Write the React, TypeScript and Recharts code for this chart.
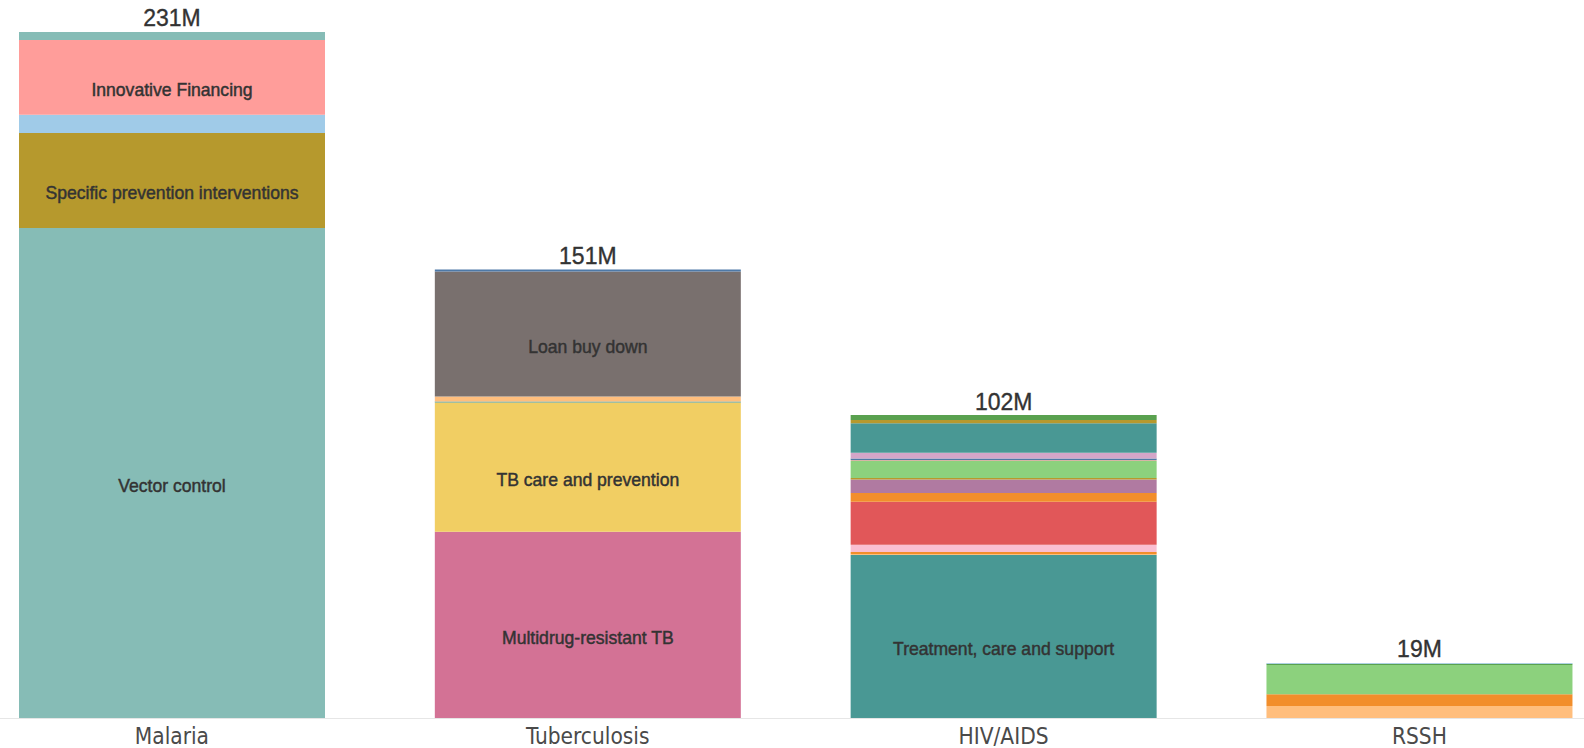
import React from 'react';
import { BarChart, Bar, XAxis, YAxis, Cell, LabelList } from 'recharts';

// categories and totals shown above each stack
const categories = ['Malaria', 'Tuberculosis', 'HIV/AIDS', 'RSSH'];
const totalLabels = ['231M', '151M', '102M', '19M'];

// segment values in millions, listed bottom to top
const malariaValues = [165.0, 32.0, 6.1, 25.2, 2.7];
const tuberculosisValues = [62.8, 43.5, 0.4, 1.6, 42.1, 0.7];
const hivValues = [55.0, 0.3, 0.7, 2.5, 14.4, 3.0, 4.5, 0.5, 5.7, 0.4, 0.5, 1.9, 9.9, 1.1, 1.7];
const rsshValues = [4.2, 4.0, 9.8, 0.4, 0.3];

const malariaNames = ['Vector control', 'Specific prevention interventions', '', 'Innovative Financing', ''];
const tuberculosisNames = ['Multidrug-resistant TB', 'TB care and prevention', '', '', 'Loan buy down', ''];
const hivNames = ['Treatment, care and support', '', '', '', '', '', '', '', '', '', '', '', '', '', ''];
const rsshNames = ['', '', '', '', ''];

const malariaColors = ['#86BCB6', '#B6992D', '#A0CBE8', '#FF9D9A', '#86BCB6'];
const tuberculosisColors = ['#D37295', '#F1CE63', '#499894', '#FFBE7D', '#79706E', '#4E79A7'];
const hivColors = [
  '#499894', '#FFBE7D', '#F28E2B', '#FABFD2', '#E15759', '#F28E2B', '#B07AA1', '#B6992D',
  '#8CD17D', '#D7B5A6', '#4E79A7', '#D4A6C8', '#499894', '#B6992D', '#59A14F',
];
const rsshColors = ['#FFBE7D', '#F28E2B', '#8CD17D', '#59A14F', '#A0CBE8'];

const segValues = [malariaValues, tuberculosisValues, hivValues, rsshValues];
const segNames = [malariaNames, tuberculosisNames, hivNames, rsshNames];
const segColors = [malariaColors, tuberculosisColors, hivColors, rsshColors];

const maxSegs = Math.max(...segValues.map((v) => v.length));
const segKeys = Array.from({ length: maxSegs }, (_, i) => 's' + i);

const data = categories.map((category, ci) => {
  const row: Record<string, any> = { category };
  segKeys.forEach((k, i) => {
    row[k] = segValues[ci][i] ?? 0;
  });
  return row;
});

const sansFont = "'Liberation Sans', Arial, sans-serif";
const narrowFont = "'Liberation Sans Narrow', 'DejaVu Sans Condensed', sans-serif";

// LabelList is keyed on "category" so the value tells us which stack we're in
const makeLabel = (segIndex: number) => (props: any) => {
  const vb = props.viewBox || props;
  const ci = categories.indexOf(props.value);
  if (ci < 0 || !(segValues[ci][segIndex] > 0)) return null;
  const x = Number(vb.x);
  const w = Number(vb.width);
  const h = Number(vb.height);
  const top = h < 0 ? Number(vb.y) + h : Number(vb.y);
  const absH = Math.abs(h);
  const cx = x + w / 2;
  const name = segNames[ci][segIndex];
  const isTop = segIndex === segValues[ci].length - 1;
  return (
    <g>
      {name ? (
        <text
          x={cx}
          y={top + absH / 2 + 12.5}
          textAnchor="middle"
          dominantBaseline="central"
          fill="#333"
          stroke="#333"
          strokeWidth={0.45}
          fontSize={17.6}
          fontFamily={sansFont}
        >
          {name}
        </text>
      ) : null}
      {isTop ? (
        <text
          x={cx}
          y={top - 13.5}
          textAnchor="middle"
          dominantBaseline="central"
          fill="#333"
          stroke="#333"
          strokeWidth={0.35}
          fontSize={23}
          fontFamily={sansFont}
        >
          {totalLabels[ci]}
        </text>
      ) : null}
    </g>
  );
};

export default function App() {
  return (
    <div
      style={{
        position: 'absolute',
        left: 0,
        top: 0,
        width: 1584,
        height: 748,
        overflow: 'hidden',
        background: '#fff',
      }}
    >
      <div style={{ position: 'absolute', left: -36.4, top: 0 }}>
        <BarChart
          width={1663.3}
          height={748}
          data={data}
          margin={{ top: 5.2, right: 0, bottom: 0, left: 0 }}
        >
          <XAxis
            dataKey="category"
            interval={0}
            height={29.5}
            tickLine={false}
            tickSize={0}
            tickMargin={9.5}
            axisLine={{ stroke: '#e6e6e6' }}
            tick={{ fill: '#4a4a4a', fontSize: 22.5, fontFamily: narrowFont }}
          />
          <YAxis hide domain={[0, 240]} />
          {segKeys.map((k, i) => (
            <Bar key={k} dataKey={k} stackId="a" barSize={306} isAnimationActive={false}>
              {categories.map((c, ci) => (
                <Cell key={c} fill={segColors[ci][i] || 'none'} />
              ))}
              <LabelList dataKey="category" content={makeLabel(i)} />
            </Bar>
          ))}
        </BarChart>
      </div>
    </div>
  );
}
